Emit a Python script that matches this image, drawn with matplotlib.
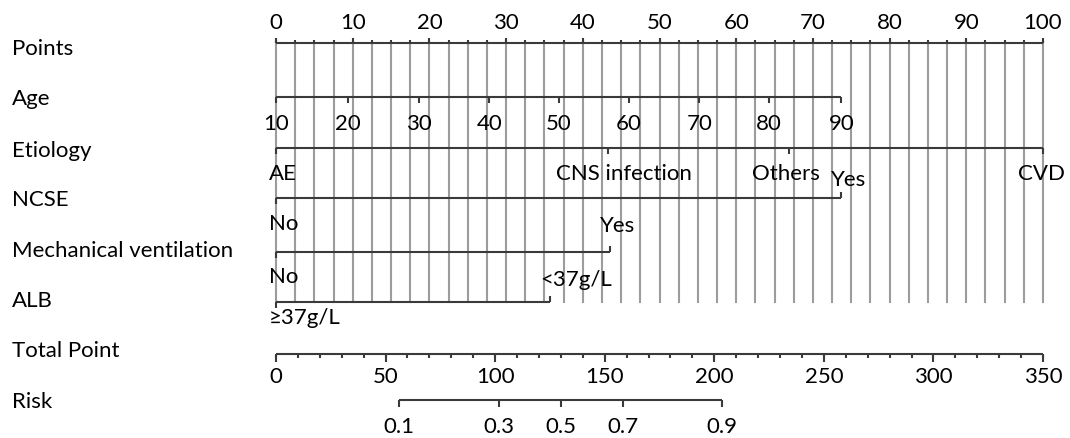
import numpy as np
import matplotlib.pyplot as plt

plt.rcParams['font.family'] = ['Lato', 'DejaVu Sans']

# nomogram scales (positions in points 0-100)
points_ticks = np.arange(0, 101, 10)
points_minor = np.arange(0, 100.1, 2.5)

age_ticks = [10, 20, 30, 40, 50, 60, 70, 80, 90]
age_points = [0, 9.4, 18.6, 27.8, 36.9, 46.0, 55.2, 64.3, 73.7]

etiology_levels = ['AE', 'CNS infection', 'Others', 'CVD']
etiology_points = [0, 43.3, 66.9, 100]

ncse_levels = ['No', 'Yes']
ncse_points = [0, 73.7]

mv_levels = ['No', 'Yes']
mv_points = [0, 43.5]

alb_levels = ['\u226537g/L', '<37g/L']
alb_points = [0, 35.7]

total_ticks = np.arange(0, 351, 50)
total_minor = np.arange(0, 351, 10)
total_max = 350

risk_ticks = ['0.1', '0.3', '0.5', '0.7', '0.9']
risk_total = [56.1, 101.6, 130.0, 158.4, 203.5]  # total points for each risk

row_names = ['Points', 'Age', 'Etiology', 'NCSE', 'Mechanical ventilation',
             'ALB', 'Total Point', 'Risk']

# layout (pixel rows)
W, H = 1070, 439
x0, scale = 276, 7.67          # px of 0 points, px per point
row_y = [44, 98, 149, 199, 253, 303, 355, 401]
name_base = [55, 105, 157, 206, 257, 307, 357, 408]

line_c = '#3a3a3a'
grid_c = '#9c9c9c'
fs = 16

fig = plt.figure(figsize=(W / 100, H / 100), dpi=100)
ax = fig.add_axes([0, 0, 1, 1])
ax.set_xlim(-x0 / scale, (W - x0) / scale)
ax.set_ylim(H, 0)
ax.axis('off')

def px(d):
    return d / scale

def hline(p0, p1, y):
    ax.plot([p0, p1], [y, y], color=line_c, lw=1.5, solid_capstyle='butt', zorder=3)

def ticks(xs, y, length, up=False):
    s = -1 if up else 1
    for x in xs:
        ax.plot([x, x], [y, y + s * length], color=line_c, lw=1.5,
                solid_capstyle='butt', zorder=3)

# row names
for name, yb in zip(row_names, name_base):
    ax.text(px(12 - x0), yb, name, fontsize=fs, ha='left', va='baseline', color='black')

# vertical reference lines
for p in points_minor:
    ax.plot([p, p], [row_y[0], row_y[5]], color=grid_c, lw=1.5, zorder=1)

# Points
hline(0, 100, row_y[0])
ticks(points_ticks, row_y[0], 5.5, up=True)
ticks(points_minor, row_y[0], 3.5, up=True)
for t in points_ticks:
    ax.text(t, 29, str(t), fontsize=fs, ha='center', va='baseline')

# Age
hline(age_points[0], age_points[-1], row_y[1])
ticks(age_points, row_y[1], 5.5)
for a, p in zip(age_ticks, age_points):
    ax.text(p, 130, str(a), fontsize=fs, ha='center', va='baseline')

# Etiology
hline(etiology_points[0], etiology_points[-1], row_y[2])
ticks(etiology_points, row_y[2], 6)
eti_lab = [(-7, 'left'), (15.5, 'center'), (-3, 'center'), (-1.5, 'center')]
for lev, p, (dx, ha) in zip(etiology_levels, etiology_points, eti_lab):
    ax.text(p + px(dx), 180, lev, fontsize=fs, ha=ha, va='baseline')

# two-level factors: first level below the line, second above
two_level = [
    (ncse_levels, ncse_points, row_y[3], 230, 186),
    (mv_levels, mv_points, row_y[4], 283, 232),
    (alb_levels, alb_points, row_y[5], 324, 286),
]
for levels, pts, y, yb_low, yb_high in two_level:
    hline(pts[0], pts[1], y)
    ticks([pts[0]], y, 6)
    ticks([pts[1]], y, 6, up=True)
    ax.text(pts[0] + px(-7), yb_low, levels[0], fontsize=fs, ha='left', va='baseline')
    ax.text(pts[1] + px(-10), yb_high, levels[1], fontsize=fs, ha='left', va='baseline')

# Total Point
tp = lambda v: np.asarray(v, dtype=float) * 100 / total_max
hline(0, 100, row_y[6])
ticks(tp(total_minor), row_y[6], 3.5)
ticks(tp(total_ticks), row_y[6], 8)
for t in total_ticks:
    ax.text(tp(t), 383, str(t), fontsize=fs, ha='center', va='baseline')

# Risk
rp = tp(risk_total)
hline(rp[0], rp[-1], row_y[7])
ticks(rp, row_y[7], 7)
for lab, p in zip(risk_ticks, rp):
    ax.text(p, 433, lab, fontsize=fs, ha='center', va='baseline')

fig.savefig('out.png', dpi=100)
